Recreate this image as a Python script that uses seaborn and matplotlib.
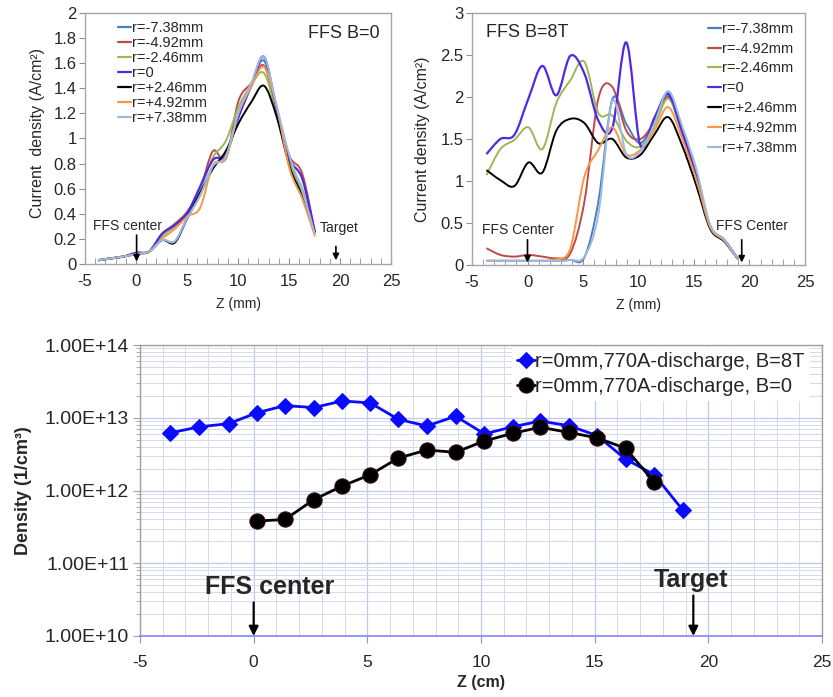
import numpy as np
import matplotlib
matplotlib.use("Agg")
import matplotlib.pyplot as plt
from matplotlib.path import Path
from matplotlib.patches import PathPatch
from matplotlib.lines import Line2D
from matplotlib.ticker import MultipleLocator, FuncFormatter, LogLocator
import seaborn as sns

sns.set_style("ticks")
plt.rcParams['font.family'] = ['Liberation Sans', 'DejaVu Sans']
plt.rcParams['axes.unicode_minus'] = False

# ---- data: current density, FFS B=0 (top left) ----
z_b0 = [-3.7, -2.45, -1.2, 0.05, 1.3, 2.55, 3.8, 5.05, 6.3, 7.55, 8.8, 10.05,
        11.3, 12.55, 13.8, 15.05, 16.3, 17.55]
j_b0_m738 = [0.03, 0.045, 0.06, 0.085, 0.1, 0.19, 0.18, 0.37, 0.55, 0.78, 0.86, 1.2, 1.43, 1.62, 1.24, 0.84, 0.57, 0.24]
j_b0_m492 = [0.03, 0.045, 0.06, 0.085, 0.1, 0.24, 0.32, 0.42, 0.6, 0.9, 0.84, 1.3, 1.44, 1.58, 1.22, 0.86, 0.72, 0.25]
j_b0_m246 = [0.03, 0.045, 0.06, 0.085, 0.1, 0.22, 0.3, 0.4, 0.6, 0.85, 0.98, 1.25, 1.43, 1.52, 1.2, 0.82, 0.6, 0.25]
j_b0_0 = [0.03, 0.045, 0.06, 0.09, 0.1, 0.24, 0.31, 0.41, 0.62, 0.83, 0.87, 1.17, 1.42, 1.65, 1.23, 0.84, 0.68, 0.25]
j_b0_p246 = [0.03, 0.045, 0.06, 0.08, 0.1, 0.19, 0.17, 0.37, 0.57, 0.76, 0.9, 1.12, 1.29, 1.42, 1.17, 0.78, 0.54, 0.25]
j_b0_p492 = [0.03, 0.045, 0.06, 0.08, 0.1, 0.2, 0.28, 0.38, 0.45, 0.79, 0.84, 1.2, 1.41, 1.57, 1.25, 0.76, 0.52, 0.22]
j_b0_p738 = [0.03, 0.045, 0.06, 0.08, 0.1, 0.19, 0.18, 0.37, 0.55, 0.78, 0.86, 1.21, 1.44, 1.65, 1.26, 0.86, 0.58, 0.24]

# ---- data: current density, FFS B=8T (top right) ----
z_8t = [-3.7, -2.44, -1.18, 0.08, 1.34, 2.6, 3.86, 5.12, 6.38, 7.64, 8.9, 10.16,
        11.42, 12.68, 13.94, 15.2, 16.46, 17.72, 18.98]
j_8t_m738 = [0.05, 0.05, 0.05, 0.05, 0.05, 0.05, 0.06, 0.09, 0.75, 1.97, 1.68, 1.45, 1.72, 2.05, 1.6, 1.08, 0.46, 0.29, 0.07]
j_8t_m492 = [0.2, 0.12, 0.1, 0.12, 0.1, 0.08, 0.14, 0.75, 1.98, 2.12, 1.6, 1.5, 1.7, 2.0, 1.58, 1.08, 0.45, 0.29, 0.07]
j_8t_m246 = [1.07, 1.38, 1.49, 1.64, 1.38, 1.93, 2.2, 2.42, 1.81, 1.78, 1.48, 1.41, 1.65, 1.98, 1.57, 1.07, 0.46, 0.29, 0.07]
j_8t_0 = [1.32, 1.5, 1.55, 1.98, 2.37, 2.02, 2.49, 2.28, 1.72, 1.63, 2.65, 1.43, 1.75, 2.03, 1.58, 1.05, 0.46, 0.3, 0.07]
j_8t_p246 = [1.13, 1.01, 0.94, 1.22, 1.1, 1.6, 1.74, 1.69, 1.45, 1.5, 1.28, 1.31, 1.55, 1.76, 1.42, 0.95, 0.43, 0.28, 0.07]
j_8t_p492 = [0.05, 0.05, 0.05, 0.05, 0.05, 0.07, 0.2, 1.05, 1.37, 1.64, 1.32, 1.37, 1.6, 1.88, 1.5, 1.02, 0.45, 0.29, 0.07]
j_8t_p738 = [0.05, 0.05, 0.05, 0.05, 0.05, 0.05, 0.06, 0.1, 0.6, 1.95, 1.32, 1.35, 1.68, 2.07, 1.65, 1.15, 0.48, 0.3, 0.07]

radius_labels = ["r=-7.38mm", "r=-4.92mm", "r=-2.46mm", "r=0",
                 "r=+2.46mm", "r=+4.92mm", "r=+7.38mm"]
radius_colors = ['#4a7ebb', '#be4b48', '#98b954', '#5028e6',
                 '#000000', '#f79646', '#9cbbe0']

# ---- data: density at r=0 (bottom) ----
z_dens_8t = [-3.66, -2.39, -1.1, 0.14, 1.38, 2.65, 3.89, 5.13, 6.37, 7.62, 8.88,
             10.15, 11.39, 12.6, 13.85, 15.1, 16.36, 17.62, 18.87]
n_dens_8t = [6.2e12, 7.5e12, 8.3e12, 1.17e13, 1.47e13, 1.38e13, 1.7e13, 1.6e13, 9.5e12,
             7.7e12, 1.05e13, 6.0e12, 7.5e12, 9.0e12, 7.8e12, 5.7e12, 2.7e12, 1.65e12, 5.4e11]
z_dens_b0 = [0.14, 1.38, 2.65, 3.89, 5.13, 6.37, 7.62, 8.88, 10.15, 11.39, 12.6,
             13.85, 15.1, 16.36, 17.62]
n_dens_b0 = [3.8e11, 4.0e11, 7.5e11, 1.15e12, 1.65e12, 2.8e12, 3.6e12, 3.35e12, 4.8e12,
             6.1e12, 7.4e12, 6.3e12, 5.3e12, 3.8e12, 1.3e12]


def smooth_line(ax, x, y, **kw):
    # Excel-like smoothed line (Catmull-Rom through the data points)
    px = np.r_[x[0], x, x[-1]].astype(float)
    py = np.r_[y[0], y, y[-1]].astype(float)
    verts = [(px[1], py[1])]
    codes = [Path.MOVETO]
    for i in range(len(x) - 1):
        c1 = (px[i + 1] + (px[i + 2] - px[i]) / 6, py[i + 1] + (py[i + 2] - py[i]) / 6)
        c2 = (px[i + 2] - (px[i + 3] - px[i + 1]) / 6, py[i + 2] - (py[i + 3] - py[i + 1]) / 6)
        verts += [c1, c2, (px[i + 2], py[i + 2])]
        codes += [Path.CURVE4] * 3
    ax.add_patch(PathPatch(Path(verts, codes), fill=False, **kw))


def style_top(ax, ymax, ystep):
    ax.set_xlim(-5, 25)
    ax.set_ylim(0, ymax)
    ax.xaxis.set_major_locator(MultipleLocator(5))
    ax.xaxis.set_minor_locator(MultipleLocator(1))
    ax.yaxis.set_major_locator(MultipleLocator(ystep))
    ax.yaxis.set_major_formatter(FuncFormatter(lambda v, p: f"{v:g}"))
    for s in ax.spines.values():
        s.set_color('#a6a6a6')
        s.set_linewidth(1)
    ax.tick_params(axis='x', which='both', direction='in', length=4, color='#909090',
                   labelsize=12, pad=7, bottom=True)
    ax.tick_params(axis='y', which='major', direction='out', length=4, color='#909090',
                   labelsize=12, pad=2, left=True)
    ax.tick_params(axis='y', which='minor', left=False)


def arrow(ax, x, y0, y1, lw=1.2, ms=9):
    ax.annotate('', xy=(x, y1), xytext=(x, y0),
                arrowprops=dict(arrowstyle='-|>', color='black', lw=lw,
                                mutation_scale=ms, shrinkA=0, shrinkB=0))


fig = plt.figure(figsize=(8.33, 6.97), dpi=100)
ax1 = fig.add_axes([85 / 833, 1 - 264 / 697, 306 / 833, 251 / 697])
ax2 = fig.add_axes([472 / 833, 1 - 265 / 697, 333 / 833, 252 / 697])
ax3 = fig.add_axes([140 / 833, 1 - 636 / 697, 682 / 833, 291 / 697])

# ---- top left: B=0 ----
series_b0 = [j_b0_m738, j_b0_m492, j_b0_m246, j_b0_0, j_b0_p246, j_b0_p492, j_b0_p738]
for vals, col in zip(series_b0, radius_colors):
    smooth_line(ax1, z_b0, vals, edgecolor=col, lw=1.4 if col != '#5028e6' else 1.6)
style_top(ax1, 2, 0.2)
handles = [Line2D([], [], color=c, lw=1.6) for c in radius_colors]
ax1.legend(handles, radius_labels, loc='upper left', bbox_to_anchor=(0.108, 0.967),
           frameon=False, fontsize=10.5, handlelength=0.9, handletextpad=0.05,
           labelspacing=0.07, borderpad=0, borderaxespad=0)
ax1.text(20.4, 1.84, "FFS B=0", fontsize=13, ha='center', va='center')
ax1.text(-0.8, 0.30, "FFS center", fontsize=10, ha='center', va='center')
arrow(ax1, 0.06, 0.23, 0.02)
ax1.text(19.9, 0.29, "Target", fontsize=10, ha='center', va='center')
arrow(ax1, 19.6, 0.14, 0.03)
ax1.set_ylabel("Current  density (A/cm²)", fontsize=11.5)
ax1.yaxis.set_label_coords(-0.13, 0.52)
ax1.set_xlabel("Z (mm)", fontsize=10)
ax1.xaxis.set_label_coords(0.5, -0.13)

# ---- top right: B=8T ----
series_8t = [j_8t_m738, j_8t_m492, j_8t_m246, j_8t_0, j_8t_p246, j_8t_p492, j_8t_p738]
for vals, col in zip(series_8t, radius_colors):
    smooth_line(ax2, z_8t, vals, edgecolor=col, lw=1.4 if col != '#5028e6' else 1.6)
style_top(ax2, 3, 0.5)
ax2.legend(handles, radius_labels, loc='upper left', bbox_to_anchor=(0.709, 0.965),
           frameon=False, fontsize=10.5, handlelength=0.9, handletextpad=0.05,
           labelspacing=0.4, borderpad=0, borderaxespad=0)
ax2.text(0.0, 2.77, "FFS B=8T", fontsize=13, ha='center', va='center')
ax2.text(-0.9, 0.42, "FFS Center", fontsize=10, ha='center', va='center')
arrow(ax2, 0.0, 0.3, 0.03)
ax2.text(20.2, 0.47, "FFS Center", fontsize=10, ha='center', va='center')
arrow(ax2, 19.3, 0.3, 0.03)
ax2.set_ylabel("Current density (A/cm²)", fontsize=11.5)
ax2.yaxis.set_label_coords(-0.125, 0.5)
ax2.set_xlabel("Z (mm)", fontsize=10)
ax2.xaxis.set_label_coords(0.5, -0.13)

# ---- bottom: density ----
ax3.set_yscale('log')
sns.lineplot(x=z_dens_8t, y=n_dens_8t, ax=ax3, color='#0a0aff', marker='D',
             markersize=8, markeredgecolor='#0a0aff', linewidth=2,
             label="r=0mm,770A-discharge, B=8T")
sns.lineplot(x=z_dens_b0, y=n_dens_b0, ax=ax3, color='black', marker='o',
             markersize=11, markeredgecolor='#3a1010', linewidth=2,
             label="r=0mm,770A-discharge, B=0")
ax3.set_xlim(-5, 25)
ax3.set_ylim(1e10, 1e14)
ax3.xaxis.set_major_locator(MultipleLocator(5))
ax3.xaxis.set_minor_locator(MultipleLocator(1))
ax3.yaxis.set_major_locator(LogLocator(base=10, numticks=10))
ax3.yaxis.set_minor_locator(LogLocator(base=10, subs=np.arange(2, 10), numticks=20))
ax3.yaxis.set_major_formatter(FuncFormatter(lambda v, p: f"{v:.2E}"))
ax3.grid(True, which='major', color='#c3c9e8', lw=0.9)
ax3.grid(True, which='minor', color='#d5d9ef', lw=0.7)
ax3.set_axisbelow(True)
for name, s in ax3.spines.items():
    s.set_color('#a0a0a0')
    s.set_linewidth(1)
ax3.spines['bottom'].set_color('#8c8cff')
ax3.spines['bottom'].set_linewidth(1.3)
ax3.tick_params(axis='x', which='major', direction='out', length=5, color='#8c8cff',
                labelsize=12.5, pad=9, bottom=True)
ax3.tick_params(axis='x', which='minor', length=0)
ax3.tick_params(axis='y', which='major', direction='out', length=5, color='#a0a0a0',
                labelsize=14, pad=3, left=True)
ax3.tick_params(axis='y', which='minor', direction='out', length=3, color='#a0a0a0', left=True)
ax3.legend(loc='upper right', bbox_to_anchor=(0.985, 1.0), frameon=True,
           facecolor='white', edgecolor='none', framealpha=1, fancybox=False,
           fontsize=14.5, handlelength=0.9, handletextpad=0.0, borderpad=0.25,
           labelspacing=0.3, borderaxespad=0.1, numpoints=1)
ax3.text(0.72, 4.7e10, "FFS center", fontsize=18, fontweight='bold', ha='center', va='center')
arrow(ax3, 0.0, 2.9e10, 1e10, lw=1.6, ms=14)
ax3.text(19.22, 5.9e10, "Target", fontsize=18, fontweight='bold', ha='center', va='center')
arrow(ax3, 19.34, 3.6e10, 1e10, lw=1.6, ms=14)
ax3.set_ylabel("Density (1/cm³)", fontsize=13, fontweight='bold')
ax3.yaxis.set_label_coords(-0.158, 0.5)
ax3.set_xlabel("Z (cm)", fontsize=11.5, fontweight='bold')
ax3.xaxis.set_label_coords(0.5, -0.135)

fig.savefig("out.png", dpi=100)
